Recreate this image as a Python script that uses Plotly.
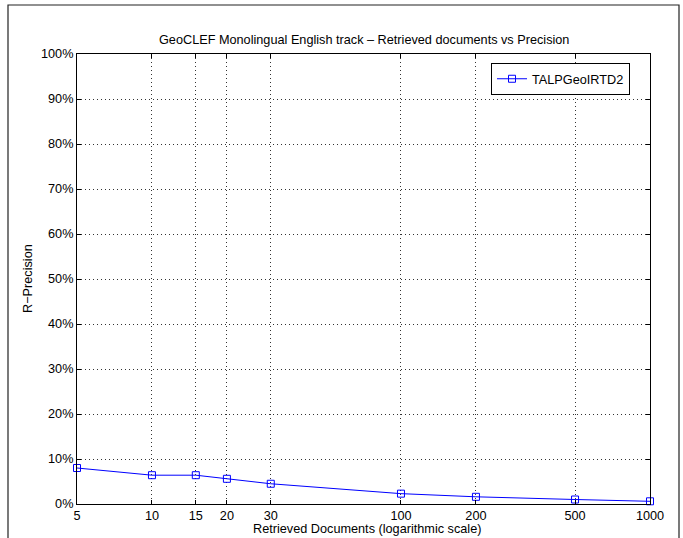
import plotly.graph_objects as go

retrieved_docs = [5, 10, 15, 20, 30, 100, 200, 500, 1000]
r_precision = [8.0, 6.4, 6.4, 5.6, 4.5, 2.3, 1.6, 1.0, 0.6]
series_name = "TALPGeoIRTD2"
x_ticks = [5, 10, 15, 20, 30, 100, 200, 500, 1000]
x_ticktext = ["5", "10", "15", "20", "30", "100", "200", "500", "1000"]
y_ticks = [0, 10, 20, 30, 40, 50, 60, 70, 80, 90, 100]
y_ticktext = [f"{v}%" for v in y_ticks]

W, H = 683, 538
L, R, T, B = 77, 650, 54, 504
pw, ph = R - L, B - T

def px(x):
    return (x - L) / pw

def py(y):
    return (B - y) / ph

FONT = "Liberation Sans, Arial, Helvetica, sans-serif"
FS = 12.7

fig = go.Figure()
fig.add_trace(go.Scatter(
    x=retrieved_docs, y=r_precision, name=series_name,
    mode="lines+markers",
    line=dict(color="#0000FF", width=1),
    marker=dict(symbol="square-open", size=7, color="#0000FF", line=dict(width=1, color="#0000FF")),
    cliponaxis=False,
))

axis_common = dict(
    showline=True, linecolor="black", linewidth=1, mirror="ticks",
    ticks="inside", ticklen=4, tickcolor="black", tickwidth=1,
    showgrid=True, gridcolor="#333333", gridwidth=1, griddash="1px,3px",
    zeroline=False, tickfont=dict(family=FONT, size=FS, color="black"),
    automargin=False,
)

fig.update_xaxes(type="log", range=[0.69897, 3.0], tickmode="array",
                 tickvals=x_ticks, ticktext=x_ticktext, **axis_common)
fig.update_yaxes(range=[0, 100], tickmode="array", tickvals=y_ticks,
                 ticktext=y_ticktext, **axis_common)

annotations = [
    dict(text="GeoCLEF Monolingual English track \u2013 Retrieved documents vs Precision",
         x=0.5, y=py(40), xref="paper", yref="paper", showarrow=False,
         xanchor="center", yanchor="middle", font=dict(family=FONT, size=FS, color="black")),
    dict(text="Retrieved Documents (logarithmic scale)",
         x=px(367), y=py(529), xref="paper", yref="paper", showarrow=False,
         xanchor="center", yanchor="middle", font=dict(family=FONT, size=FS, color="black")),
    dict(text="R\u2212Precision",
         x=px(28), y=0.5, xref="paper", yref="paper", showarrow=False, textangle=-90,
         xanchor="center", yanchor="middle", font=dict(family=FONT, size=FS, color="black")),
]

shapes = [
    dict(type="path", xref="paper", yref="paper",
         path=f"M {px(8)} {py(545)} L {px(8)} {py(5)} L {px(679)} {py(5)} L {px(679)} {py(545)}",
         line=dict(color="#222222", width=1.2), layer="above"),
]

fig.update_layout(
    width=W, height=H,
    margin=dict(l=L, r=W - R, t=T, b=H - B),
    paper_bgcolor="white", plot_bgcolor="white",
    annotations=annotations, shapes=shapes,
    showlegend=True,
    legend=dict(x=px(491), y=py(63), xanchor="left", yanchor="top",
                bordercolor="black", borderwidth=1, bgcolor="white",
                font=dict(family=FONT, size=FS, color="black"),
                itemwidth=30, tracegroupgap=0),
    font=dict(family=FONT, color="black"),
)

fig.write_html("out.html",
               config={"displayModeBar": False},
               post_script="document.body.style.margin='0';document.body.style.overflow='hidden';")
